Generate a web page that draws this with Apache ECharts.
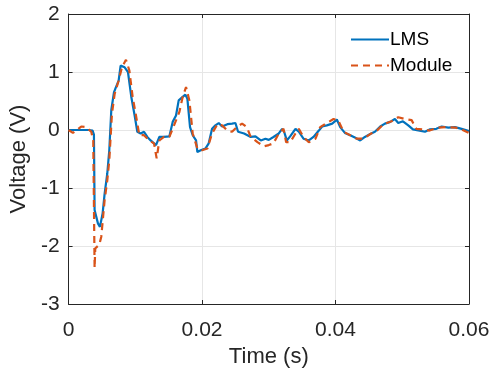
<!DOCTYPE html>
<html><head><meta charset="utf-8">
<script src="https://cdn.jsdelivr.net/npm/echarts@6/dist/echarts.min.js"></script>
<style>html,body{margin:0;padding:0;background:#fff}#c{width:502px;height:373px}</style>
</head><body><div id="c"></div>
<script>
const xTicks = [0, 0.02, 0.04, 0.06];
const yTicks = [-3, -2, -1, 0, 1, 2];
const seriesNames = ['LMS', 'Module'];
const lmsT = [0,0.0010,0.0020,0.0030,0.0036,0.0038,0.0039,0.0044,0.0047,0.0051,0.0054,0.0058,0.0061,0.0064,0.0068,0.0071,0.0075,0.0078,0.0084,0.0089,0.0094,0.0099,0.0103,0.0108,0.0113,0.0118,0.0123,0.0131,0.0136,0.0143,0.0151,0.0156,0.0161,0.0165,0.0171,0.0175,0.0178,0.0182,0.0186,0.0191,0.0193,0.0198,0.0205,0.0210,0.0215,0.0220,0.0225,0.0230,0.0238,0.0245,0.0250,0.0254,0.0263,0.0273,0.0280,0.0288,0.0295,0.0300,0.0307,0.0315,0.0320,0.0323,0.0327,0.0332,0.0340,0.0345,0.0352,0.0360,0.0367,0.0375,0.0380,0.0387,0.0395,0.0402,0.0407,0.0414,0.0422,0.0429,0.0437,0.0444,0.0452,0.0459,0.0467,0.0474,0.0482,0.0489,0.0494,0.0501,0.0509,0.0516,0.0526,0.0534,0.0541,0.0551,0.0559,0.0569,0.0579,0.0589,0.0600];
const lmsV = [0,0,0,0,-0.01,-0.08,-1.38,-1.61,-1.67,-1.44,-1.10,-0.75,-0.35,0.34,0.65,0.74,0.85,1.11,1.08,1.00,0.57,0.25,-0.03,-0.06,-0.03,-0.12,-0.18,-0.26,-0.12,-0.12,-0.11,0.14,0.25,0.51,0.57,0.61,0.54,0.05,-0.09,-0.18,-0.38,-0.35,-0.32,-0.23,0.02,0.08,0.12,0.06,0.10,0.11,0.12,-0.03,-0.06,-0.12,-0.11,-0.18,-0.15,-0.17,-0.12,-0.06,0.02,-0.03,-0.18,-0.11,0.02,-0.03,-0.15,-0.18,-0.12,-0.01,0.06,0.08,0.11,0.18,0.05,-0.05,-0.09,-0.13,-0.18,-0.12,-0.07,-0.03,0.06,0.11,0.14,0.19,0.12,0.15,0.08,0.01,-0.01,-0.03,0.01,0.02,0.06,0.04,0.05,0.02,-0.02];
const modT = [0,0.00065,0.0019,0.0026,0.0034,0.0037,0.0039,0.0040,0.0046,0.0049,0.0054,0.0058,0.0061,0.0065,0.0069,0.0075,0.0080,0.0086,0.0091,0.0096,0.0101,0.0106,0.0113,0.0121,0.0128,0.0132,0.0136,0.0143,0.0151,0.0158,0.0166,0.0171,0.0176,0.0181,0.0186,0.0193,0.0200,0.0208,0.0215,0.0223,0.0230,0.0238,0.0245,0.0253,0.0260,0.0267,0.0273,0.0283,0.0293,0.0300,0.0307,0.0315,0.0322,0.0326,0.0332,0.0340,0.0345,0.0352,0.0360,0.0370,0.0377,0.0387,0.0397,0.0404,0.0412,0.0422,0.0432,0.0442,0.0452,0.0462,0.0472,0.0484,0.0494,0.0504,0.0514,0.0521,0.0531,0.0541,0.0553,0.0565,0.0580,0.0589,0.0600];
const modV = [0,-0.05,0.06,0.05,-0.03,-0.18,-2.38,-2.04,-1.98,-1.84,-1.21,-0.87,-0.52,0.28,0.62,0.85,1.08,1.21,1.03,0.57,0.25,-0.09,-0.09,-0.18,-0.23,-0.49,-0.18,-0.12,-0.12,0.08,0.31,0.57,0.74,0.51,-0.06,-0.32,-0.35,-0.32,-0.06,0.10,0.08,-0.01,-0.03,0.06,0.11,0.05,-0.12,-0.21,-0.28,-0.26,-0.23,-0.06,0.02,-0.21,-0.21,-0.06,0.02,-0.12,-0.21,-0.15,0.05,0.12,0.19,0.17,-0.03,-0.09,-0.15,-0.15,-0.07,-0.01,0.10,0.15,0.22,0.19,0.17,0.02,0.01,-0.01,0.04,0.05,0.04,0.01,-0.05];

const zip = (t, v) => t.map((x, i) => [x, v[i]]);
const font = 'Liberation Sans, Arial, Helvetica, sans-serif';
const axisCol = '#262626';
const chart = echarts.init(document.getElementById('c'), null, {renderer: 'canvas'});
const fmtX = v => (v === 0 ? '0' : String(+v.toFixed(2)));
const tick = {show: true, inside: true, length: 4, lineStyle: {color: axisCol}};
const line = {show: true, onZero: false, lineStyle: {color: axisCol, width: 1}};
chart.setOption({
  animation: false,
  backgroundColor: '#fff',
  grid: {left: 67, right: 33, top: 14, bottom: 69, containLabel: false},
  legend: {
    data: seriesNames, orient: 'vertical', left: 350, top: 30, padding: 0,
    itemWidth: 38, itemHeight: 14, itemGap: 7,
    itemStyle: {opacity: 0},
    textStyle: {fontFamily: font, fontSize: 19, color: '#000', padding: [0,0,0,-4]}
  },
  xAxis: [{
    type: 'value', min: xTicks[0], max: xTicks[xTicks.length-1], interval: 0.02,
    name: 'Time (s)', nameLocation: 'middle', nameGap: 37,
    nameTextStyle: {fontFamily: font, fontSize: 22, color: '#262626'},
    axisLine: line, axisTick: tick,
    axisLabel: {fontFamily: font, fontSize: 21, color: '#262626', margin: 16, formatter: fmtX},
    splitLine: {show: true, lineStyle: {color: '#e6e6e6', width: 1}}
  }, {
    type: 'value', position: 'top', min: 0, max: 0.06, interval: 0.02,
    axisLine: line, axisTick: tick,
    axisLabel: {show: false}, splitLine: {show: false}
  }],
  yAxis: [{
    type: 'value', min: yTicks[0], max: yTicks[yTicks.length-1], interval: 1,
    name: 'Voltage (V)', nameLocation: 'middle', nameGap: 31,
    nameTextStyle: {fontFamily: font, fontSize: 22, color: '#262626'},
    axisLine: line, axisTick: tick,
    axisLabel: {fontFamily: font, fontSize: 21, color: '#262626', margin: 9},
    splitLine: {show: true, lineStyle: {color: '#e6e6e6', width: 1}}
  }, {
    type: 'value', position: 'right', min: -3, max: 2, interval: 1,
    axisLine: line, axisTick: tick,
    axisLabel: {show: false}, splitLine: {show: false}
  }],
  series: [{
    name: seriesNames[0], type: 'line', data: zip(lmsT, lmsV), showSymbol: false, symbol: 'none',
    lineStyle: {color: '#0072BD', width: 2.2}, itemStyle: {color: '#0072BD'}, z: 3
  }, {
    name: seriesNames[1], type: 'line', data: zip(modT, modV), showSymbol: false, symbol: 'none',
    lineStyle: {color: '#D95319', width: 2.2, type: [7, 5]}, itemStyle: {color: '#D95319'}, z: 4
  }]
});
</script></body></html>
